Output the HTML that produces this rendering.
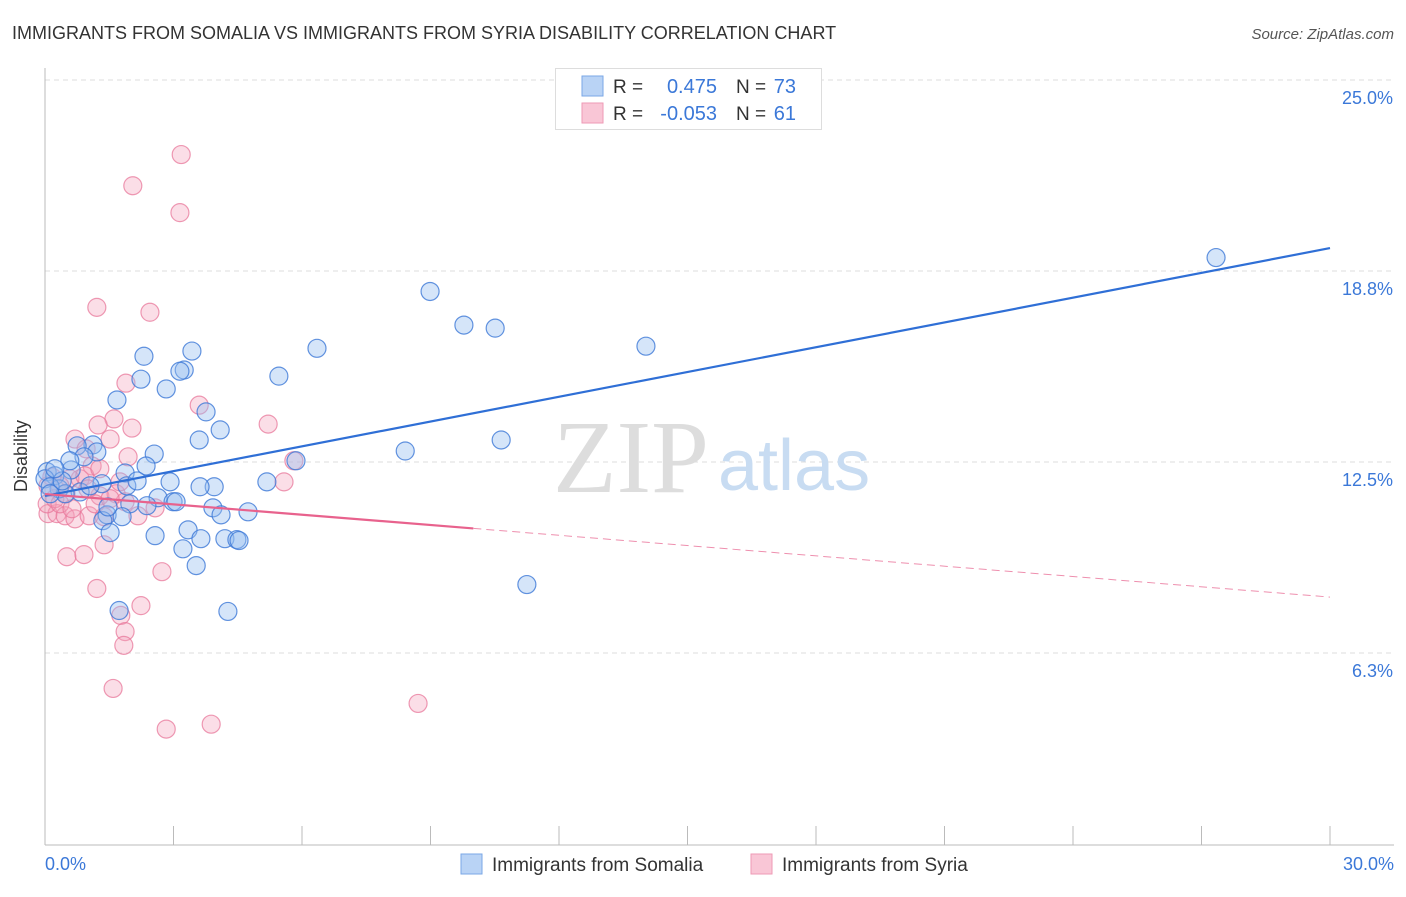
<!DOCTYPE html>
<html><head><meta charset="utf-8"><style>
body{margin:0;background:#fff;font-family:"Liberation Sans",sans-serif;}
svg text{font-family:"Liberation Sans",sans-serif;}
</style></head><body>
<svg width="1406" height="892" xmlns="http://www.w3.org/2000/svg">
<text x="12" y="39" font-size="18" fill="#333">IMMIGRANTS FROM SOMALIA VS IMMIGRANTS FROM SYRIA DISABILITY CORRELATION CHART</text>
<text x="1394" y="39" font-size="15" fill="#555" font-style="italic" text-anchor="end">Source: ZipAtlas.com</text>
<g id="grid"></g>
<text x="553" y="492" font-size="104" fill="#ddd" style="font-family:'Liberation Serif',serif">ZIP</text>
<text x="718" y="490" font-size="72" fill="#c8dcf2">atlas</text>
<line x1="45" y1="68" x2="45" y2="845" stroke="#bbb"/>
<line x1="45" y1="845" x2="1394" y2="845" stroke="#bbb"/>
<g id="xt"></g>
<g id="pts"></g>
<g id="tl"></g>
<text x="27" y="456" font-size="18" fill="#333" transform="rotate(-90 27 456)" text-anchor="middle">Disability</text>
<text x="45" y="870" font-size="18" fill="#3b78d8">0.0%</text>
<text x="1394" y="870" font-size="18" fill="#3b78d8" text-anchor="end">30.0%</text>
<g>
<rect x="555.5" y="68.5" width="266" height="61" fill="#fff" stroke="#ddd"/>
<rect x="582" y="76" width="21" height="20" fill="#b9d3f5" stroke="#7aa7e6"/>
<rect x="582" y="103" width="21" height="20" fill="#f9c6d6" stroke="#ee9ab5"/>
<text x="613" y="93" font-size="19" fill="#333">R =</text><text x="717" y="93" font-size="20" fill="#3b78d8" text-anchor="end">0.475</text>
<text x="736" y="93" font-size="19" fill="#333">N =</text><text x="796" y="93" font-size="20" fill="#3b78d8" text-anchor="end">73</text>
<text x="613" y="120" font-size="19" fill="#333">R =</text><text x="717" y="120" font-size="20" fill="#3b78d8" text-anchor="end">-0.053</text>
<text x="736" y="120" font-size="19" fill="#333">N =</text><text x="796" y="120" font-size="20" fill="#3b78d8" text-anchor="end">61</text>
</g>
<g>
<rect x="461" y="854" width="21" height="20" fill="#b9d3f5" stroke="#7aa7e6"/>
<text x="492" y="871" font-size="19" fill="#333">Immigrants from Somalia</text>
<rect x="751" y="854" width="21" height="20" fill="#f9c6d6" stroke="#ee9ab5"/>
<text x="782" y="871" font-size="19" fill="#333">Immigrants from Syria</text>
</g>
</svg>
<script>
const yTicks=[25.0,18.75,12.5,6.25];
const yTickLabels=["25.0%","18.8%","12.5%","6.3%"];
const xTicks=[0,3,6,9,12,15,18,21,24,27,30];
const somaliaX=[27.34,8.99,9.78,10.51,14.03,6.35,3.43,2.31,3.25,3.15,5.46,2.24,2.83,1.68,3.76,4.09,3.60,10.65,8.41,1.12,0.75,1.21,2.55,0.91,2.36,1.87,0.61,0.05,0.23,5.18,2.92,3.95,3.62,1.91,2.15,1.33,0.33,0.82,0.47,2.64,2.99,3.06,1.98,2.38,3.92,4.74,4.11,1.45,1.80,1.35,1.52,3.34,2.57,3.64,4.20,4.48,4.53,3.22,3.53,11.25,1.73,4.27,0.0,0.12,0.40,5.86,1.47,1.05,0.12,0.58,0.23];
const somaliaY=[19.19,18.08,16.98,16.88,16.29,16.22,16.13,15.96,15.51,15.47,15.31,15.21,14.89,14.53,14.14,13.55,13.22,13.22,12.86,13.06,13.03,12.83,12.76,12.67,12.37,12.14,12.24,12.18,12.05,11.85,11.85,11.69,11.69,11.72,11.88,11.79,11.62,11.52,11.46,11.33,11.20,11.20,11.13,11.07,11.00,10.87,10.77,10.77,10.71,10.58,10.19,10.28,10.09,9.99,9.99,9.96,9.93,9.66,9.11,8.49,7.64,7.61,11.95,11.69,11.88,12.54,11.03,11.72,11.46,12.54,12.28];
const syriaX=[3.18,2.05,3.15,1.21,2.45,1.89,3.60,1.61,1.24,2.03,5.21,0.70,1.52,0.96,1.10,1.94,5.81,5.58,0.82,0.58,0.16,0.07,0.35,0.49,1.28,1.66,2.57,0.07,0.28,0.47,0.70,1.03,1.38,2.17,1.87,1.38,0.51,0.91,2.73,1.21,2.24,1.77,1.87,1.84,1.59,2.83,3.88,8.71,0.05,0.23,0.93,1.17,1.75,1.52,0.35,0.63,1.28,1.00];
const syriaY=[22.56,21.54,20.66,17.56,17.40,15.08,14.36,13.91,13.71,13.61,13.74,13.25,13.25,12.93,12.37,12.67,12.54,11.85,11.95,11.95,12.01,11.72,11.72,11.46,11.39,11.46,11.00,10.81,10.81,10.74,10.64,10.74,10.71,10.74,11.20,9.79,9.40,9.47,8.91,8.36,7.80,7.48,6.95,6.50,5.09,3.76,3.92,4.60,11.13,11.30,12.05,11.13,11.85,11.30,11.13,10.97,12.28,11.62];
const somaliaTrend=[11.39,19.50];
const syriaTrend=[11.45,8.08];
const syriaSolidEnd=10.0;
const NS="http://www.w3.org/2000/svg";
function sx(v){return 45+v/30*1285;}
function sy(v){return 80+(25-v)*30.56;}
function mk(t,a,p){const e=document.createElementNS(NS,t);for(const k in a)e.setAttribute(k,a[k]);p.appendChild(e);return e;}
const grid=document.getElementById('grid');
yTicks.forEach((v,i)=>{
  const l=mk('line',{x1:45,x2:1394,y1:sy(v),y2:sy(v),stroke:'#ddd','stroke-dasharray':'5,4'},grid);
  
  
  const t=mk('text',{x:1393,y:sy(v)+24,'font-size':18,fill:'#3b78d8','text-anchor':'end'},grid);
  t.textContent=yTickLabels[i];
  
  
});
const xt=document.getElementById('xt');
xTicks.forEach(v=>{
  const l=mk('line',{x1:sx(v),x2:sx(v),y1:826,y2:845,stroke:'#bbb'},xt);
  
  
});
const pts=document.getElementById('pts');
syriaX.forEach((x,i)=>{
  const c=mk('circle',{cx:sx(x),cy:sy(syriaY[i]),r:9,fill:'rgba(244,160,186,0.35)',stroke:'rgba(232,120,155,0.75)','stroke-width':1.2},pts);
  
  
});
somaliaX.forEach((x,i)=>{
  const c=mk('circle',{cx:sx(x),cy:sy(somaliaY[i]),r:9,fill:'rgba(150,190,240,0.4)',stroke:'rgba(60,120,215,0.8)','stroke-width':1.2},pts);
  
  
});
const tl=document.getElementById('tl');
function ty(tr,x){return tr[0]+(tr[1]-tr[0])*x/30;}
let b=mk('line',{x1:sx(0),y1:sy(somaliaTrend[0]),x2:sx(30),y2:sy(somaliaTrend[1]),stroke:'#2f6fd6','stroke-width':2.2},tl);


let p1=mk('line',{x1:sx(0),y1:sy(syriaTrend[0]),x2:sx(syriaSolidEnd),y2:sy(ty(syriaTrend,syriaSolidEnd)),stroke:'#e8628d','stroke-width':2.2},tl);


let p2=mk('line',{x1:sx(syriaSolidEnd),y1:sy(ty(syriaTrend,syriaSolidEnd)),x2:sx(30),y2:sy(syriaTrend[1]),stroke:'#ee8fae','stroke-width':1,'stroke-dasharray':'8,5'},tl);


</script>
</body></html>
